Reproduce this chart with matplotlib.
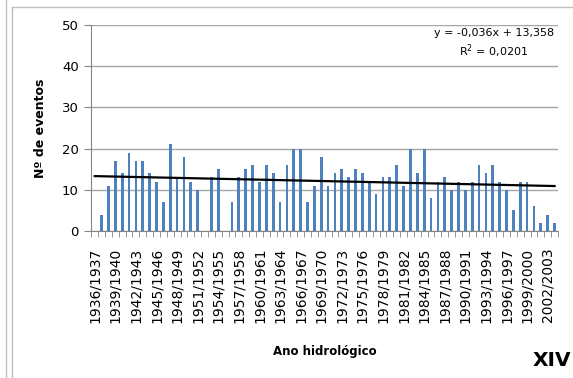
import numpy as np
import matplotlib.pyplot as plt
from matplotlib.lines import Line2D

# hydrological years 1936/1937 .. 2003/2004
start_years = list(range(1936, 2004))
categories = [f"{y}/{y + 1}" for y in start_years]
events = [0, 4, 11, 17, 14, 19, 17, 17, 14, 12, 7, 21, 13,
          18, 12, 10, 0, 13, 15, 0, 7, 13, 15, 16, 12, 16, 14,
          7, 16, 20, 20, 7, 11, 18, 11, 14, 15, 13, 15, 14, 12,
          9, 13, 13, 16, 11, 20, 14, 20, 8, 12, 13, 10, 12, 10,
          12, 16, 14, 16, 12, 10, 5, 12, 12, 6, 2, 4, 2]
eq_text = "y = -0,036x + 13,358\nR$^2$ = 0,0201"

W, H = 573, 378
fig = plt.figure(figsize=(W / 100, H / 100), dpi=100)
ax = fig.add_axes([91.3 / W, 1 - 231 / H, (558 - 91.3) / W, (231 - 25) / H])

x = np.arange(len(categories))
ax.bar(x, events, width=0.4, color="#4F81BD", zorder=3)

# linear trend (Excel style, x = 1..n)
xn = x + 1
slope, icpt = np.polyfit(xn, events, 1)
ax.plot([x[0], x[-1]], [slope * xn[0] + icpt, slope * xn[-1] + icpt],
        color="black", lw=1.6, zorder=4)

ax.set_xlim(-0.5, len(categories) - 0.5)
ax.set_ylim(0, 50)
ax.set_yticks([0, 10, 20, 30, 40, 50])
ax.yaxis.grid(True, color="#A6A6A6", lw=1, zorder=0)

ax.set_xticks(x[::3])
ax.set_xticklabels(categories[::3], rotation=90, fontsize=10)
ax.set_xticks(np.arange(-0.5, len(categories)), minor=True)
ax.tick_params(axis="x", which="major", length=0, pad=12)
ax.tick_params(axis="x", which="minor", length=4, color="#868686")
ax.tick_params(axis="y", length=5, color="#868686", labelsize=9.5, pad=4)

for s in ["top", "right"]:
    ax.spines[s].set_visible(False)
for s in ["left", "bottom"]:
    ax.spines[s].set_color("#868686")

ax.set_ylabel("Nº de eventos", fontsize=9, fontweight="bold")
ax.yaxis.set_label_coords(-0.095, 0.5)
fig.text(325 / W, 1 - 352 / H, "Ano hidrológico", fontsize=8.5,
         fontweight="bold", ha="center", va="center")
fig.text(494 / W, 1 - 44 / H, eq_text, fontsize=8, ha="center",
         va="center", multialignment="center", linespacing=1.3)
fig.text(552 / W, 1 - 360 / H, "XIV", fontsize=14.5, fontweight="bold",
         ha="center", va="center")

# chart frame and the neighbour panel edge
bc = "#BFBFBF"
fig.add_artist(Line2D([12 / W, 12 / W], [0, 1 - 7 / H], color=bc, lw=1))
fig.add_artist(Line2D([12 / W, 1], [1 - 7 / H, 1 - 7 / H], color=bc, lw=1))
fig.add_artist(Line2D([6 / W, 6 / W], [0, 1], color=bc, lw=1))

fig.savefig("out.png", dpi=100)
